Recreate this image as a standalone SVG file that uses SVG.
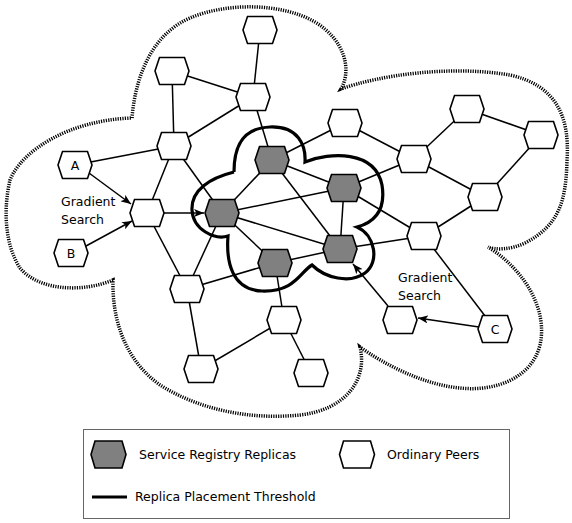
<svg xmlns="http://www.w3.org/2000/svg" xmlns:xlink="http://www.w3.org/1999/xlink" width="572" height="523" viewBox="0 0 572 523">
<style>
.edge{stroke:#000;stroke-width:1.5;fill:none}
.arr{stroke:#000;stroke-width:1.5;fill:none;marker-end:url(#ah)}
.peer{fill:#fff;stroke:#000;stroke-width:1.6}
.rep{fill:#808080;stroke:#000;stroke-width:1.6}
.lbl{font-family:"DejaVu Sans",sans-serif;font-size:12.5px;fill:#000}
.ctr{text-anchor:middle}
.cloud{fill:none;stroke:#000;stroke-width:3.5;stroke-dasharray:1.2 1.2}
.thr{fill:none;stroke:#000;stroke-width:3.2}
</style>
<defs>
<polygon id="hex" points="-17,0 -12.5,-13.5 12.5,-13.5 17,0 12.5,13.5 -12.5,13.5"/>
<polygon id="lhex" points="-17.5,0 -13.5,-13.5 13.5,-13.5 17.5,0 13.5,13.5 -13.5,13.5"/>
<marker id="ah" viewBox="0 0 10 8" refX="10" refY="4" markerWidth="10" markerHeight="8" markerUnits="userSpaceOnUse" orient="auto">
<path d="M0,0 L10,4 L0,8 L2.5,4 Z" fill="#000"/>
</marker>
</defs>
<rect width="572" height="523" fill="#fff"/>
<path class="cloud" d="M132,118 C135,80 150,35 190,18 C225,3 280,2 315,22 C345,40 352,70 341,89 C380,75 450,65 510,75 C555,85 570,115 567,160 C566,200 560,225 525,243 C510,250 495,250 488,247 C525,270 548,310 540,345 C532,378 495,392 460,388 C425,385 385,365 360,347 C368,380 345,410 300,415 C250,420 200,410 160,385 C125,360 112,320 113,280 C85,292 40,292 20,268 C5,245 3,210 10,180 C22,150 70,120 132,118 Z"/>
<g id="connectors">
<line class="edge" x1="260" y1="30" x2="253" y2="97"/>
<line class="edge" x1="172" y1="71" x2="253" y2="97"/>
<line class="edge" x1="172" y1="71" x2="174" y2="146"/>
<line class="edge" x1="253" y1="97" x2="174" y2="146"/>
<line class="edge" x1="253" y1="97" x2="272" y2="160"/>
<line class="edge" x1="75" y1="165" x2="174" y2="146"/>
<line class="edge" x1="174" y1="146" x2="147" y2="213"/>
<line class="edge" x1="174" y1="146" x2="222" y2="213"/>
<line class="edge" x1="147" y1="213" x2="187" y2="289"/>
<line class="edge" x1="222" y1="213" x2="187" y2="289"/>
<line class="edge" x1="187" y1="289" x2="275" y2="263"/>
<line class="edge" x1="187" y1="289" x2="201" y2="369"/>
<line class="edge" x1="201" y1="369" x2="284" y2="320"/>
<line class="edge" x1="275" y1="263" x2="284" y2="320"/>
<line class="edge" x1="284" y1="320" x2="311" y2="373"/>
<line class="edge" x1="222" y1="213" x2="272" y2="160"/>
<line class="edge" x1="222" y1="213" x2="344" y2="188"/>
<line class="edge" x1="222" y1="213" x2="340" y2="249"/>
<line class="edge" x1="222" y1="213" x2="275" y2="263"/>
<line class="edge" x1="272" y1="160" x2="344" y2="188"/>
<line class="edge" x1="272" y1="160" x2="340" y2="249"/>
<line class="edge" x1="344" y1="188" x2="340" y2="249"/>
<line class="edge" x1="340" y1="249" x2="275" y2="263"/>
<line class="edge" x1="272" y1="160" x2="345" y2="123"/>
<line class="edge" x1="344" y1="188" x2="414" y2="159"/>
<line class="edge" x1="345" y1="123" x2="414" y2="159"/>
<line class="edge" x1="414" y1="159" x2="467" y2="109"/>
<line class="edge" x1="467" y1="109" x2="541" y2="135"/>
<line class="edge" x1="541" y1="135" x2="485" y2="197"/>
<line class="edge" x1="414" y1="159" x2="485" y2="197"/>
<line class="edge" x1="485" y1="197" x2="424" y2="236"/>
<line class="edge" x1="344" y1="188" x2="424" y2="236"/>
<line class="edge" x1="340" y1="249" x2="424" y2="236"/>
<line class="edge" x1="424" y1="236" x2="495" y2="329"/>
<line class="arr" x1="89" y1="173" x2="131" y2="204"/>
<line class="arr" x1="86" y1="246" x2="132" y2="221"/>
<line class="arr" x1="164" y1="213" x2="204" y2="213"/>
<line class="arr" x1="479" y1="327" x2="418" y2="318"/>
<line class="arr" x1="388" y1="306" x2="353" y2="264"/>
</g>
<path class="thr" d="M234,172 C234,150 240,128 270,127 C298,126 306,145 305,162 C330,152 375,150 382,185 C386,210 375,222 357,227 C375,235 380,262 365,273 C350,284 325,278 312,265 C300,272 295,292 262,291 C232,290 226,262 228,236 C215,240 193,230 192,210 C191,190 210,178 234,172"/>
<g id="n1"><use xlink:href="#hex" class="peer" x="260" y="30"/></g>
<g id="n2"><use xlink:href="#hex" class="peer" x="172" y="71"/></g>
<g id="n3"><use xlink:href="#hex" class="peer" x="253" y="97"/></g>
<g id="n4"><use xlink:href="#hex" class="peer" x="174" y="146"/></g>
<g id="nA"><use xlink:href="#hex" class="peer" x="75" y="165"/><text class="lbl ctr" x="75" y="170">A</text></g>
<g id="n6"><use xlink:href="#hex" class="peer" x="147" y="213"/></g>
<g id="nB"><use xlink:href="#hex" class="peer" x="71" y="253"/><text class="lbl ctr" x="71" y="258">B</text></g>
<g id="r1"><use xlink:href="#hex" class="rep" x="222" y="213"/></g>
<g id="r2"><use xlink:href="#hex" class="rep" x="272" y="160"/></g>
<g id="r3"><use xlink:href="#hex" class="rep" x="344" y="188"/></g>
<g id="r4"><use xlink:href="#hex" class="rep" x="340" y="249"/></g>
<g id="r5"><use xlink:href="#hex" class="rep" x="275" y="263"/></g>
<g id="n13"><use xlink:href="#hex" class="peer" x="187" y="289"/></g>
<g id="n14"><use xlink:href="#hex" class="peer" x="201" y="369"/></g>
<g id="n15"><use xlink:href="#hex" class="peer" x="284" y="320"/></g>
<g id="n16"><use xlink:href="#hex" class="peer" x="311" y="373"/></g>
<g id="n17"><use xlink:href="#hex" class="peer" x="400" y="320"/></g>
<g id="nC"><use xlink:href="#hex" class="peer" x="495" y="329"/><text class="lbl ctr" x="495" y="334">C</text></g>
<g id="n19"><use xlink:href="#hex" class="peer" x="424" y="236"/></g>
<g id="n20"><use xlink:href="#hex" class="peer" x="485" y="197"/></g>
<g id="n21"><use xlink:href="#hex" class="peer" x="414" y="159"/></g>
<g id="n22"><use xlink:href="#hex" class="peer" x="345" y="123"/></g>
<g id="n23"><use xlink:href="#hex" class="peer" x="467" y="109"/></g>
<g id="n24"><use xlink:href="#hex" class="peer" x="541" y="135"/></g>
<text class="lbl" x="61" y="206">Gradient</text>
<text class="lbl" x="61" y="224">Search</text>
<text class="lbl" x="398" y="282">Gradient</text>
<text class="lbl" x="398" y="300">Search</text>
<g id="legend">
<rect x="83.5" y="429.5" width="426" height="89" fill="#fff" stroke="#666" stroke-width="1"/>
<use xlink:href="#lhex" class="rep" x="108.5" y="454.5"/>
<text class="lbl" x="139" y="459">Service Registry Replicas</text>
<use xlink:href="#lhex" class="peer" x="357" y="454.5"/>
<text class="lbl" x="387" y="459">Ordinary Peers</text>
<line x1="92" y1="497" x2="127" y2="497" stroke="#000" stroke-width="3"/>
<text class="lbl" x="135" y="501">Replica Placement Threshold</text>
</g>
</svg>
